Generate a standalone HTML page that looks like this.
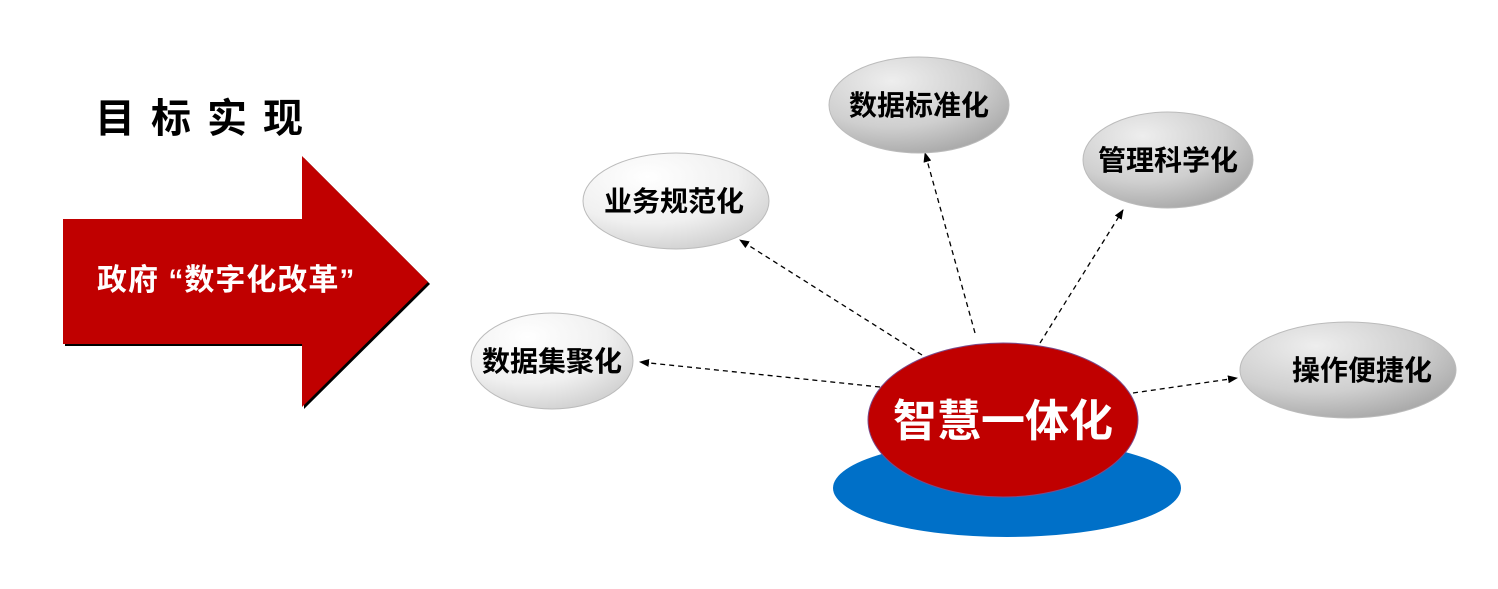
<!DOCTYPE html>
<html><head><meta charset="utf-8"><style>
body{margin:0;background:#fff;width:1498px;height:584px;overflow:hidden}
svg text{font-family:"Liberation Sans","Noto Sans CJK SC",sans-serif;font-weight:bold}
</style></head><body>
<svg width="1498" height="584" viewBox="0 0 1498 584">
<defs>
<radialGradient id="g1" cx="35%" cy="25%" r="80%">
<stop offset="0" stop-color="#ffffff"/><stop offset="0.6" stop-color="#f0f0f0"/><stop offset="1" stop-color="#d0d0d0"/></radialGradient>
<radialGradient id="g2" cx="35%" cy="25%" r="80%">
<stop offset="0" stop-color="#eeeeee"/><stop offset="0.6" stop-color="#cfcfcf"/><stop offset="1" stop-color="#a8a8a8"/></radialGradient>
<marker id="ah" markerWidth="10" markerHeight="8" refX="9" refY="4" orient="auto" markerUnits="userSpaceOnUse">
<path d="M0,0 L10,4 L0,8 z" fill="#000"/></marker>
</defs>
<text x="95" y="132" font-size="40" letter-spacing="16" fill="#000">目标实现</text>
<polygon points="65,221 304,221 304,158 430,284 304,409 304,346 65,346" fill="#000"/>
<polygon points="63,219 302,219 302,156 428,282 302,407 302,344 63,344" fill="#c00000"/>
<text x="97" y="290" font-size="30" fill="#fff" letter-spacing="1">政府 “数字化改革”</text>
<g stroke="#000" stroke-width="1.3" stroke-dasharray="5,4" fill="none" marker-end="url(#ah)">
<line x1="922" y1="355" x2="740" y2="240"/>
<line x1="975" y1="333" x2="925" y2="153"/>
<line x1="1040" y1="343" x2="1123" y2="210"/>
<line x1="880" y1="387" x2="640" y2="362"/>
<line x1="1133" y1="393" x2="1237" y2="378"/>
</g>
<ellipse cx="1007" cy="488" rx="174" ry="49" fill="#0070c8"/>
<ellipse cx="1003" cy="420" rx="135" ry="77" fill="#c00000" stroke="#7a4a8a" stroke-width="1"/>
<text x="1003" y="436" font-size="44" fill="#fff" text-anchor="middle">智慧一体化</text>
<g stroke="#bbb" stroke-width="1">
<ellipse cx="676" cy="201" rx="93" ry="48" fill="url(#g1)"/>
<ellipse cx="552" cy="361" rx="81" ry="48" fill="url(#g1)"/>
<ellipse cx="919" cy="105" rx="90" ry="48" fill="url(#g2)"/>
<ellipse cx="1168" cy="160" rx="85" ry="48" fill="url(#g2)"/>
<ellipse cx="1348" cy="370" rx="108" ry="48" fill="url(#g2)"/>
</g>
<g font-size="28" fill="#000" text-anchor="middle">
<text x="674" y="211">业务规范化</text>
<text x="552" y="371">数据集聚化</text>
<text x="919" y="115">数据标准化</text>
<text x="1168" y="170">管理科学化</text>
<text x="1362" y="380">操作便捷化</text>
</g>
</svg>
</body></html>
